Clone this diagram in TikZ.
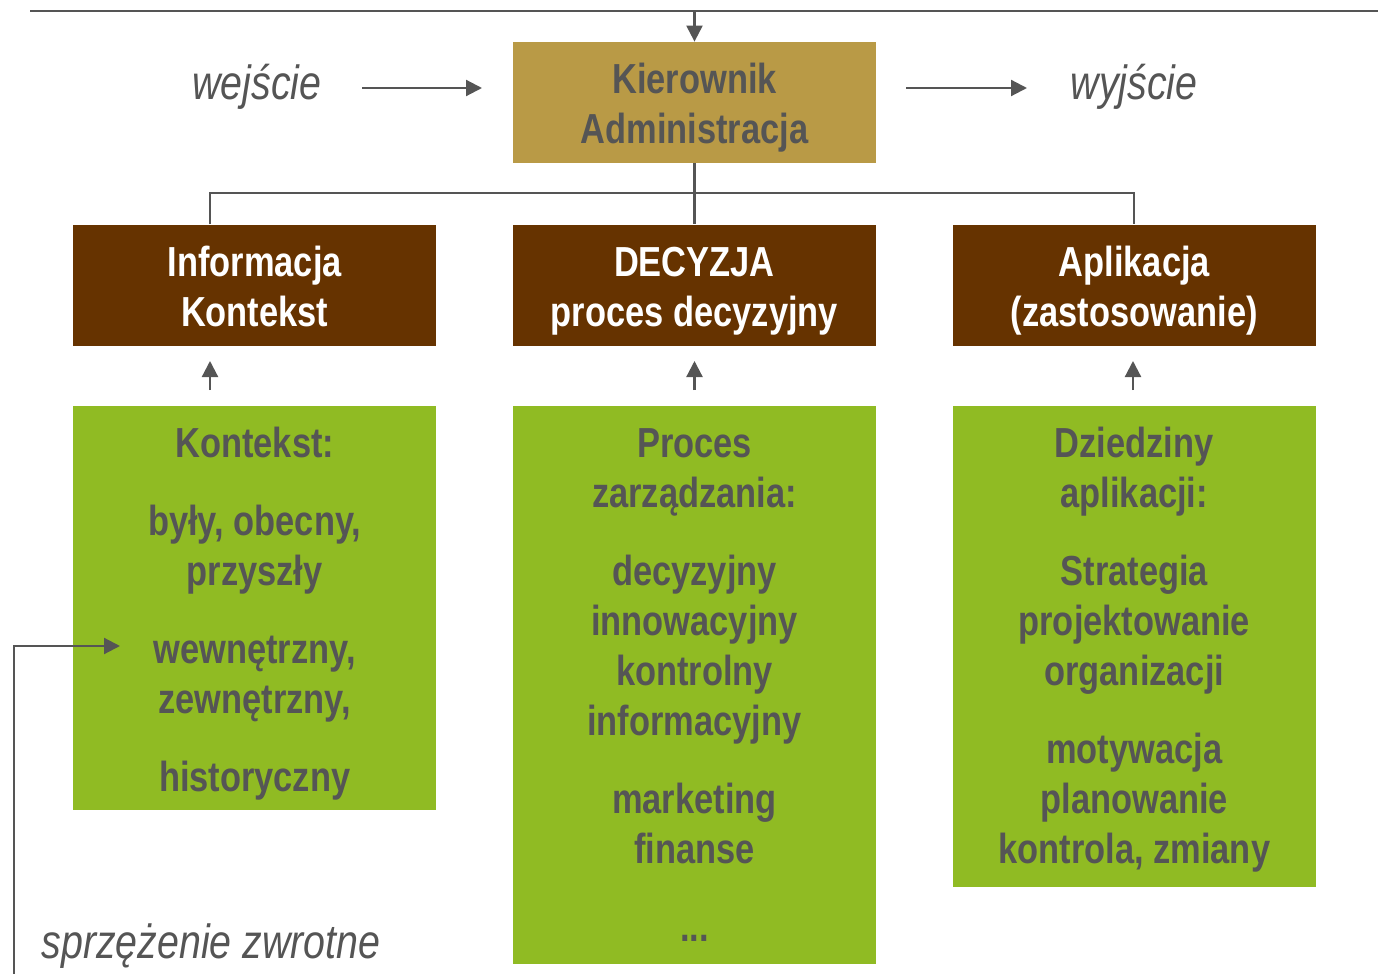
\documentclass[tikz,border=0pt]{standalone}
\usepackage{fontspec}
\setmainfont[FakeStretch=0.82]{Liberation Sans}
\usetikzlibrary{positioning,arrows.meta}
\definecolor{goldbg}{RGB}{185,154,70}
\definecolor{brownbg}{RGB}{102,51,0}
\definecolor{greenbg}{RGB}{144,187,35}
\definecolor{inkgray}{RGB}{85,85,85}
\tikzset{
  box/.style={minimum width=181.5pt, minimum height=60.5pt, inner sep=0pt, align=center, font=\fontsize{21}{25}\selectfont\bfseries,
    execute at begin node={\rule[-5pt]{0pt}{51.5pt}}},
  goldbox/.style={box, fill=goldbg, text=inkgray},
  brownbox/.style={box, fill=brownbg, text=white},
  greenbox/.style={fill=greenbg, minimum width=181.5pt, inner sep=0pt},
  greentext/.style={anchor=north, inner sep=0pt, align=center, text=inkgray, font=\fontsize{21}{25}\selectfont\bfseries},
  lbl/.style={text=inkgray, inner sep=0pt, font=\fontsize{24}{28}\selectfont\itshape},
  wire/.style={draw=inkgray, line width=1.1pt},
}

\begin{document}
\begin{tikzpicture}[x=0.5pt, y=-0.5pt, >={Triangle[length=8pt,width=8pt]}, node distance=38pt]
		\useasboundingbox (0,0) rectangle (1378,974);
		% Center
		\node[goldbox] (Kier) at (694.5,102.5) {Kierownik\\Administracja} ;
		\node[brownbox, below=30.5pt of Kier] (Decyzja) {DECYZJA\\proces decyzyjny} ;
		\node[brownbox, left=of Decyzja] (Info) {Informacja\\Kontekst} ;
		\node[brownbox, right=of Decyzja] (Apl) {Aplikacja\\(zastosowanie)} ;
		% Green boxes
		\node[greenbox, minimum height=202pt, below=29.5pt of Info] (InfoG) {} ;
		\node[greenbox, minimum height=279pt, below=29.5pt of Decyzja] (DecG) {} ;
		\node[greenbox, minimum height=240.5pt, below=29.5pt of Apl] (AplG) {} ;
		\node[greentext] (InfoT) at ([yshift=-10.5pt]InfoG.north) {Kontekst:\\[14pt]były, obecny,\\przyszły\\[14pt]wewnętrzny,\\zewnętrzny,\\[14pt]historyczny} ;
		\node[greentext] (DecT) at ([yshift=-11.5pt]DecG.north) {Proces\\zarządzania:\\[14pt]decyzyjny\\innowacyjny\\kontrolny\\informacyjny\\[14pt]marketing\\finanse\\[14pt]...} ;
		\node[greentext] (AplT) at ([yshift=-10.5pt]AplG.north) {Dziedziny\\aplikacji:\\[14pt]Strategia\\projektowanie\\organizacji\\[14pt]motywacja\\planowanie\\kontrola, zmiany} ;
		% Input / output
		\node[lbl] (wej) at (257,87) {wejście} ;
		\node[lbl] (wyj) at (1134,87) {wyjście} ;
		\coordinate (inA) at (362,88) ;
		\coordinate (inB) at (482,88) ;
		\coordinate (outA) at (906,88) ;
		\coordinate (outB) at (1027,88) ;
		\draw[wire,->] (inA) -- (inB) ;
		\draw[wire,->] (outA) -- (outB) ;
		% Top line
		\coordinate (topL) at (30,11) ;
		\coordinate (topR) at (1378,11) ;
		\draw[wire] (topL) -- (topR) ;
		\draw[wire,->] (Kier.north |- topL) -- (Kier.north) ;
		% Tree
		\coordinate (busL) at (210,193) ;
		\coordinate (busR) at (Apl.north |- busL) ;
		\draw[wire] (Kier.south) -- (Decyzja.north) ;
		\draw[wire] (busL |- Info.north) -- (busL) -- (busR) -- (Apl.north) ;
		\foreach \x/\n in {210/L, 694.5/M, 1133/R} {
			\coordinate (feed\n) at (\x,390) ;
			\coordinate (tip\n) at (\x,361) ;
			\draw[wire,->] (feed\n) -- (tip\n) ;
		}
		% Feedback
		\node[lbl] (fbLabel) at (211,946) {sprzężenie zwrotne} ;
		\coordinate (fbStart) at (14,974) ;
		\coordinate (fbEnd) at (120,646) ;
		\draw[wire,->] (fbStart) |- (fbEnd) ;
	\end{tikzpicture}
\end{document}
